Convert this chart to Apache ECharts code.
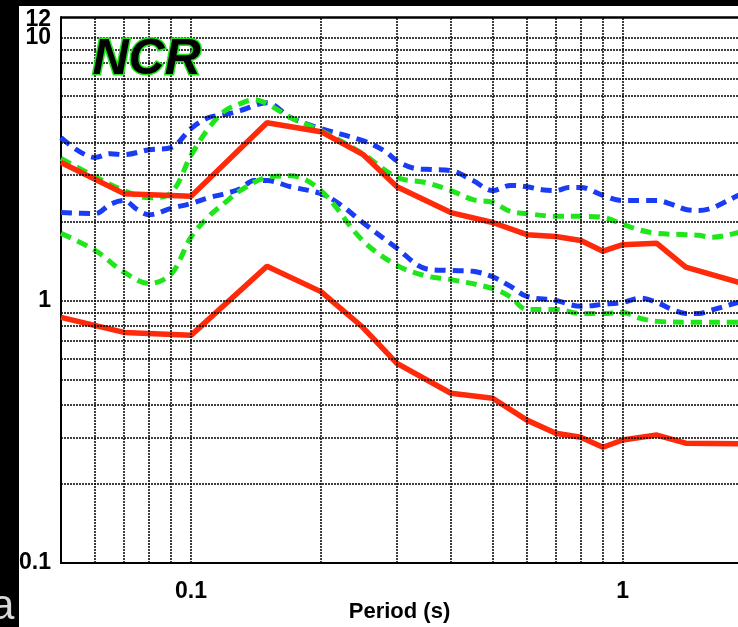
<!DOCTYPE html>
<html>
<head>
<meta charset="utf-8">
<script src="https://cdn.jsdelivr.net/npm/echarts@6/dist/echarts.min.js"></script>
<style>
html,body{margin:0;padding:0;background:#fff;}
#chart{width:738px;height:627px;}
</style>
</head>
<body>
<div id="chart"></div>
<script>
// ---- data ----
const redPeriods = [0.05, 0.07, 0.1, 0.15, 0.2, 0.25, 0.3, 0.4, 0.5, 0.6, 0.7, 0.8, 0.9, 1.0, 1.2, 1.4, 2.0];
const redUpper   = [3.35, 2.55, 2.49, 4.75, 4.39, 3.6, 2.71, 2.16, 1.98, 1.78, 1.75, 1.69, 1.54, 1.63, 1.65, 1.34, 1.13];
const redLower   = [0.862, 0.755, 0.736, 1.35, 1.08, 0.79, 0.576, 0.443, 0.424, 0.35, 0.312, 0.301, 0.276, 0.294, 0.307, 0.286, 0.284];

const blueUpperPeriods = [0.05, 0.06, 0.065, 0.07, 0.08, 0.09, 0.1, 0.11, 0.12, 0.13, 0.15, 0.17, 0.2, 0.25, 0.28, 0.3, 0.33, 0.36, 0.4, 0.45, 0.5, 0.55, 0.6, 0.65, 0.7, 0.75, 0.8, 0.9, 1.0, 1.1, 1.2, 1.3, 1.4, 1.5, 1.6, 1.7, 1.85, 2.0];
const blueUpper        = [4.17, 3.50, 3.62, 3.59, 3.75, 3.82, 4.51, 4.97, 5.1, 5.28, 5.66, 4.97, 4.51, 4.06, 3.72, 3.40, 3.18, 3.15, 3.12, 2.86, 2.62, 2.74, 2.71, 2.64, 2.62, 2.69, 2.69, 2.51, 2.40, 2.40, 2.40, 2.32, 2.22, 2.20, 2.24, 2.34, 2.51, 2.67];

const greenUpperPeriods = [0.05, 0.06, 0.07, 0.08, 0.09, 0.1, 0.11, 0.12, 0.13, 0.14, 0.15, 0.17, 0.2, 0.25, 0.3, 0.35, 0.4, 0.45, 0.5, 0.55, 0.6, 0.7, 0.8, 0.9, 1.0, 1.1, 1.2, 1.4, 1.5, 1.6, 1.85, 2.0];
const greenUpper        = [3.47, 2.96, 2.62, 2.46, 2.57, 3.56, 4.54, 5.28, 5.61, 5.81, 5.61, 4.97, 4.43, 3.62, 2.94, 2.81, 2.62, 2.42, 2.36, 2.18, 2.14, 2.09, 2.09, 2.07, 1.95, 1.85, 1.80, 1.78, 1.77, 1.74, 1.81, 1.88];

const blueLowerPeriods = [0.05, 0.06, 0.065, 0.07, 0.075, 0.08, 0.09, 0.1, 0.11, 0.12, 0.13, 0.14, 0.15, 0.17, 0.2, 0.22, 0.25, 0.3, 0.35, 0.4, 0.45, 0.5, 0.55, 0.6, 0.7, 0.8, 0.9, 1.0, 1.1, 1.2, 1.3, 1.4, 1.5, 1.6, 1.85, 2.0];
const blueLower        = [2.16, 2.14, 2.32, 2.40, 2.22, 2.12, 2.24, 2.34, 2.46, 2.55, 2.66, 2.86, 2.86, 2.71, 2.55, 2.34, 1.98, 1.58, 1.32, 1.30, 1.29, 1.23, 1.13, 1.035, 1.0, 0.949, 0.966, 0.983, 1.02, 0.983, 0.924, 0.892, 0.892, 0.916, 0.983, 1.02];

const greenLowerPeriods = [0.05, 0.06, 0.07, 0.08, 0.09, 0.1, 0.11, 0.12, 0.13, 0.15, 0.17, 0.2, 0.25, 0.3, 0.35, 0.4, 0.5, 0.55, 0.6, 0.7, 0.8, 0.9, 1.0, 1.1, 1.2, 1.5, 1.85, 2.0];
const greenLower        = [1.80, 1.55, 1.28, 1.16, 1.26, 1.74, 2.09, 2.36, 2.62, 2.94, 2.98, 2.62, 1.69, 1.36, 1.24, 1.20, 1.11, 1.03, 0.924, 0.924, 0.892, 0.892, 0.90, 0.854, 0.832, 0.825, 0.825, 0.825];

const xTickLabels = [0.1, 1];
const yTickLabels = [0.1, 1, 10];
const yTopTickLabels = [12];
const xGridValues = [0.06, 0.07, 0.08, 0.09, 0.1, 0.2, 0.3, 0.4, 0.5, 0.6, 0.7, 0.8, 0.9, 1];
const yGridValues = [0.2, 0.3, 0.4, 0.5, 0.6, 0.7, 0.8, 0.9, 1, 2, 3, 4, 5, 6, 7, 8, 9, 10];
const xRange = [0.05, 1.85];
const yRange = [0.1, 12];

const titleText = 'NCR';
const xAxisName = 'Period (s)';

// ---- build ----
const zip = (xs, ys) => xs.map((x, i) => [x, ys[i]]);
const RED = '#ff2a0a', BLUE = '#1a3cf5', GREEN = '#1ee61a';
const FONT = '"Liberation Sans", Arial, sans-serif';

const gridLineStyle = {color: '#000', type: [2, 1], width: 1.5};
const markLines = [];
xGridValues.forEach(v => markLines.push({xAxis: v}));
yGridValues.forEach(v => markLines.push({yAxis: v}));
markLines.push({yAxis: yRange[1], lineStyle: {type: 'solid', width: 2.5, color: '#000'}});

function dashed(name, xs, ys, color) {
  return {
    name, type: 'line', data: zip(xs, ys), smooth: 0.35, symbol: 'none', z: 3,
    lineStyle: {color, width: 5, type: [11, 7]}
  };
}

const yLabelBase = {hideOverlap: false, showMaxLabel: true, showMinLabel: true,
  fontFamily: FONT, fontWeight: 'bold', fontSize: 23, color: '#000', margin: 10, formatter: v => String(v)};

const chart = echarts.init(document.getElementById('chart'), null, {renderer: 'canvas'});
chart.setOption({
  animation: false,
  backgroundColor: '#fff',
  grid: {left: 61, top: 17, bottom: 64, right: 0, show: false, outerBoundsMode: 'none', containLabel: false},
  xAxis: {
    type: 'log', logBase: 10, min: xRange[0], max: xRange[1],
    name: xAxisName, nameLocation: 'middle', nameGap: 38, nameMoveOverlap: false,
    nameTextStyle: {fontFamily: FONT, fontWeight: 'bold', fontSize: 22, color: '#000'},
    axisLine: {show: true, lineStyle: {color: '#000', width: 2}},
    axisTick: {show: false},
    splitLine: {show: false},
    axisLabel: {customValues: xTickLabels, hideOverlap: false, fontFamily: FONT, fontWeight: 'bold', fontSize: 23, color: '#000', margin: 17,
      formatter: v => String(v)}
  },
  yAxis: [{
    type: 'log', logBase: 10, min: yRange[0], max: yRange[1],
    axisLine: {show: true, lineStyle: {color: '#000', width: 2}},
    axisTick: {show: false},
    splitLine: {show: false},
    axisLabel: Object.assign({customValues: yTickLabels}, yLabelBase)
  }, {
    type: 'log', logBase: 10, min: yRange[0], max: yRange[1], position: 'left',
    axisLine: {show: false}, axisTick: {show: false}, splitLine: {show: false},
    axisLabel: Object.assign({}, yLabelBase, {customValues: yTopTickLabels, verticalAlign: 'top', lineHeight: 6})
  }],
  graphic: [
    {type: 'rect', shape: {x: 0, y: 0, width: 19, height: 627}, style: {fill: '#000'}, z: 100},
    {type: 'rect', shape: {x: 0, y: 0, width: 738, height: 6}, style: {fill: '#000'}, z: 100},
    {type: 'text', left: -9, top: 586, style: {text: 'a', fontFamily: FONT, fontSize: 42, fill: '#d8d8d8'}, z: 101},
    {type: 'text', left: 91, top: 34, style: {text: titleText, fontFamily: FONT, fontSize: 50, fontWeight: 'bold', fontStyle: 'italic',
      fill: '#000', stroke: GREEN, lineWidth: 3}, z: 50}
  ],
  series: [
    {
      name: 'grid', type: 'line', data: [], silent: true,
      markLine: {silent: true, symbol: 'none', label: {show: false}, animation: false,
        lineStyle: gridLineStyle, data: markLines}
    },
    dashed('blueUpper', blueUpperPeriods, blueUpper, BLUE),
    dashed('greenUpper', greenUpperPeriods, greenUpper, GREEN),
    dashed('blueLower', blueLowerPeriods, blueLower, BLUE),
    dashed('greenLower', greenLowerPeriods, greenLower, GREEN),
    {name: 'redUpper', type: 'line', data: zip(redPeriods, redUpper), symbol: 'none', z: 4, lineStyle: {color: RED, width: 5.5}},
    {name: 'redLower', type: 'line', data: zip(redPeriods, redLower), symbol: 'none', z: 4, lineStyle: {color: RED, width: 5.5}}
  ]
});
</script>
</body>
</html>
